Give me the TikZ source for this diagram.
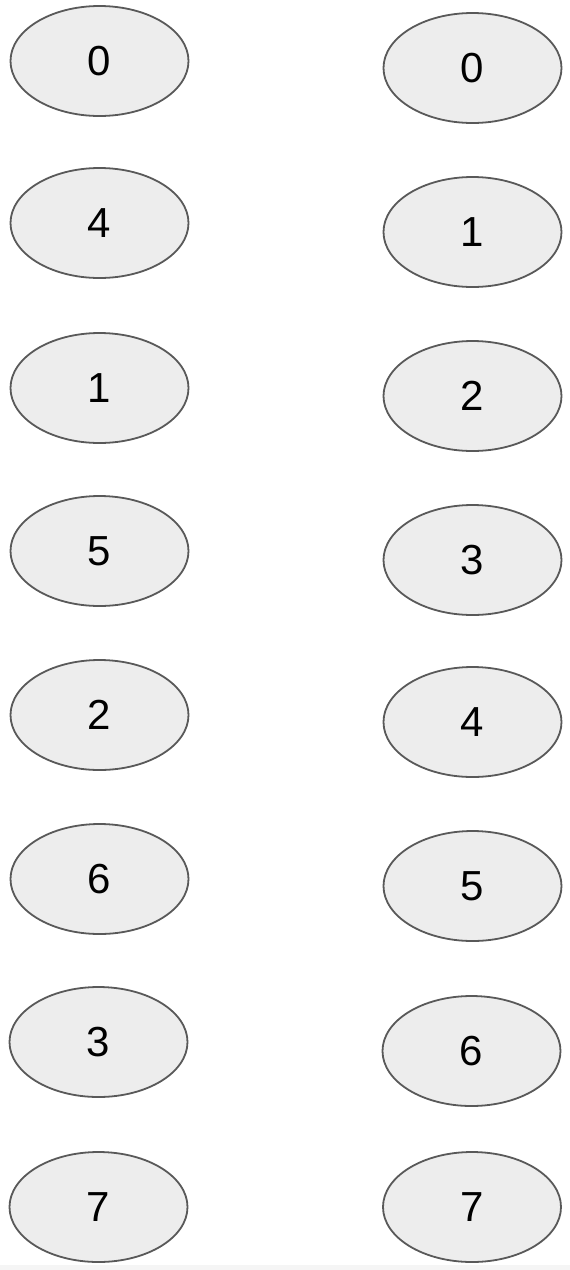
\documentclass[tikz,border=0pt]{standalone}
\usepackage{fontspec}
\setmainfont{Liberation Sans}
\usetikzlibrary{shapes.geometric}
\tikzset{
  oval/.style={ellipse, draw=black!65, fill=black!7, line width=1.8pt,
    minimum width=178pt, minimum height=110pt, inner sep=0pt,
    font=\fontsize{42}{42}\selectfont, text=black}
}
\begin{document}
\begin{tikzpicture}[x=1pt,y=-1pt]
\useasboundingbox (0,0) rectangle (570,1270);
\fill[black!4] (0,1265) rectangle (570,1270);
% left column
\node[oval] (l0) at (99.5,61) {0};
\node[oval] (l4) at (99.5,223) {4};
\node[oval] (l1) at (99.5,388) {1};
\node[oval] (l5) at (99.5,551) {5};
\node[oval] (l2) at (99.5,715) {2};
\node[oval] (l6) at (99.5,879) {6};
\node[oval] (l3) at (98.5,1042) {3};
\node[oval] (l7) at (98.5,1207) {7};
% right column
\node[oval] (r0) at (472.5,68) {0};
\node[oval] (r1) at (472.5,232) {1};
\node[oval] (r2) at (472.5,396) {2};
\node[oval] (r3) at (472.5,560) {3};
\node[oval] (r4) at (472.5,722) {4};
\node[oval] (r5) at (472.5,886) {5};
\node[oval] (r6) at (471.5,1051) {6};
\node[oval] (r7) at (472,1207) {7};
\end{tikzpicture}
\end{document}
